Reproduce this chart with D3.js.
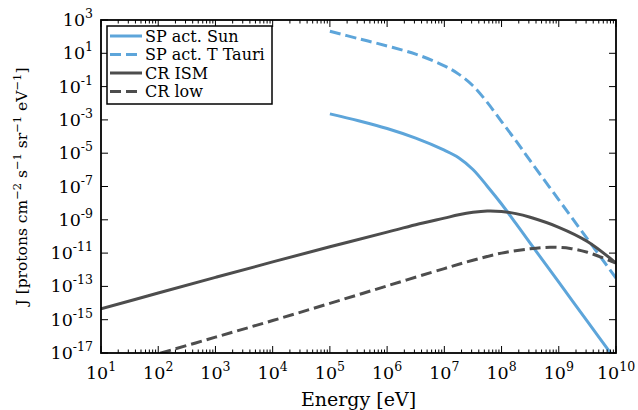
<!DOCTYPE html>
<html><head><meta charset="utf-8">
<script src="https://cdn.jsdelivr.net/npm/d3@7"></script>
<style>
html,body{margin:0;padding:0;background:#fff;}
text{font-family:"DejaVu Serif",serif;fill:#000;}
</style></head><body>
<svg id="chart" width="638" height="410"></svg>
<script>
// ---- data (log10 values) ----
const sunLogE = [5, 5.5, 6, 6.5, 7, 7.25, 7.5, 7.75, 8, 8.25, 8.5, 9, 9.5, 10];
const sunLogJ = [-2.64, -3.05, -3.52, -4.1, -4.82, -5.27, -5.98, -6.98, -8.05, -9.22, -10.4, -12.75, -15.1, -17.45];
const tauLogE = [5, 5.5, 6, 6.5, 7, 7.25, 7.5, 7.75, 8, 8.25, 8.5, 9, 9.5, 10];
const tauLogJ = [2.32, 1.88, 1.44, 0.95, 0.25, -0.25, -0.95, -1.95, -3.1, -4.25, -5.45, -7.8, -10.15, -12.5];
const ismLogE = [1, 2, 3, 4, 5, 6, 6.5, 7, 7.25, 7.5, 7.75, 8, 8.25, 8.5, 9, 9.5, 10];
const ismLogJ = [-14.35, -13.4, -12.46, -11.53, -10.62, -9.74, -9.3, -8.9, -8.7, -8.55, -8.47, -8.5, -8.63, -8.85, -9.45, -10.3, -11.6];
const lowLogE = [1.5, 2, 3, 4, 5, 6, 7, 7.5, 8, 8.5, 8.85, 9.2, 9.5, 10];
const lowLogJ = [-17.55, -17.05, -16.05, -15.05, -14.02, -12.97, -11.93, -11.43, -11.0, -10.74, -10.65, -10.72, -10.95, -11.6];
const seriesNames = ["SP act. Sun", "SP act. T Tauri", "CR ISM", "CR low"];
const xTickExps = [1,2,3,4,5,6,7,8,9,10];
const yTickExps = [3,1,-1,-3,-5,-7,-9,-11,-13,-15,-17];

const series = [
  {name: seriesNames[0], e: sunLogE, j: sunLogJ, color: "#5DA5DA", dash: null},
  {name: seriesNames[1], e: tauLogE, j: tauLogJ, color: "#5DA5DA", dash: "11,5"},
  {name: seriesNames[2], e: ismLogE, j: ismLogJ, color: "#4D4D4D", dash: null},
  {name: seriesNames[3], e: lowLogE, j: lowLogJ, color: "#4D4D4D", dash: "11,5"}
];

const svg = d3.select("#chart");
const L = 101, R = 616, T = 20, B = 353;
const x = d3.scaleLog().domain([1e1, 1e10]).range([L, R]);
const y = d3.scaleLog().domain([1e-17, 1e3]).range([B, T]);

svg.append("defs").append("clipPath").attr("id","clip")
  .append("rect").attr("x",L).attr("y",T).attr("width",R-L).attr("height",B-T);

const line = d3.line().x(d=>x(d[0])).y(d=>y(d[1])).curve(d3.curveCatmullRom.alpha(0.5));
const g = svg.append("g").attr("clip-path","url(#clip)");
series.forEach(s=>{
  const pts = s.e.map((v,i)=>[Math.pow(10,v), Math.pow(10,s.j[i])]);
  g.append("path").attr("d", line(pts)).attr("fill","none")
    .attr("stroke", s.color).attr("stroke-width",3)
    .attr("stroke-dasharray", s.dash);
});

// ticks (inward, all four sides)
const tk = svg.append("g").attr("stroke","#000").attr("stroke-width",1);
const minors = [];
for (let e=1;e<10;e++) for (let m=2;m<=9;m++) minors.push(m*Math.pow(10,e));
xTickExps.forEach(e=>{
  const px = x(Math.pow(10,e));
  tk.append("line").attr("x1",px).attr("x2",px).attr("y1",B).attr("y2",B-7);
  tk.append("line").attr("x1",px).attr("x2",px).attr("y1",T).attr("y2",T+7);
});
minors.forEach(v=>{
  const px = x(v);
  tk.append("line").attr("x1",px).attr("x2",px).attr("y1",B).attr("y2",B-3.5);
  tk.append("line").attr("x1",px).attr("x2",px).attr("y1",T).attr("y2",T+3.5);
});
yTickExps.forEach(e=>{
  const py = y(Math.pow(10,e));
  tk.append("line").attr("x1",L).attr("x2",L+7).attr("y1",py).attr("y2",py);
  tk.append("line").attr("x1",R).attr("x2",R-7).attr("y1",py).attr("y2",py);
});

// frame
svg.append("rect").attr("x",L).attr("y",T).attr("width",R-L).attr("height",B-T)
  .attr("fill","none").attr("stroke","#000").attr("stroke-width",1.8);

// tick labels
xTickExps.forEach(e=>{
  const t = svg.append("text").attr("x", x(Math.pow(10,e))).attr("y", 379)
    .attr("text-anchor","middle").style("font-size","17.5px");
  t.append("tspan").text("10");
  t.append("tspan").attr("dy",-8).style("font-size","12.5px").text(String(e));
});
yTickExps.forEach(e=>{
  const t = svg.append("text").attr("x", 93).attr("y", y(Math.pow(10,e))+6)
    .attr("text-anchor","end").style("font-size","17.5px");
  t.append("tspan").text("10");
  t.append("tspan").attr("dy",-8).style("font-size","12.5px").text(e<0?("-"+(-e)):String(e));
});

// axis titles
svg.append("text").attr("x",(L+R)/2).attr("y",406).attr("text-anchor","middle")
  .style("font-size","19px").text("Energy [eV]");
const yl = svg.append("text").attr("transform","translate(27,"+((T+B)/2)+") rotate(-90)")
  .attr("text-anchor","middle").style("font-size","15.5px");
yl.append("tspan").text("J [protons cm");
yl.append("tspan").attr("dy",-6).style("font-size","11.5px").text("\u22122");
yl.append("tspan").attr("dy",6).text(" s");
yl.append("tspan").attr("dy",-6).style("font-size","11.5px").text("\u22121");
yl.append("tspan").attr("dy",6).text(" sr");
yl.append("tspan").attr("dy",-6).style("font-size","11.5px").text("\u22121");
yl.append("tspan").attr("dy",6).text(" eV");
yl.append("tspan").attr("dy",-6).style("font-size","11.5px").text("\u22121");
yl.append("tspan").attr("dy",6).text("]");

// legend
const lg = svg.append("g");
lg.append("rect").attr("x",107).attr("y",26).attr("width",165).attr("height",78)
  .attr("fill","#fff").attr("stroke","#000").attr("stroke-width",1.5);
series.forEach((s,i)=>{
  const ly = 36 + i*18.5;
  lg.append("line").attr("x1",110).attr("x2",142).attr("y1",ly).attr("y2",ly)
    .attr("stroke",s.color).attr("stroke-width",3).attr("stroke-dasharray",s.dash);
  lg.append("text").attr("x",145).attr("y",ly+5.5).style("font-size","16px").text(s.name);
});
</script>
</body></html>
